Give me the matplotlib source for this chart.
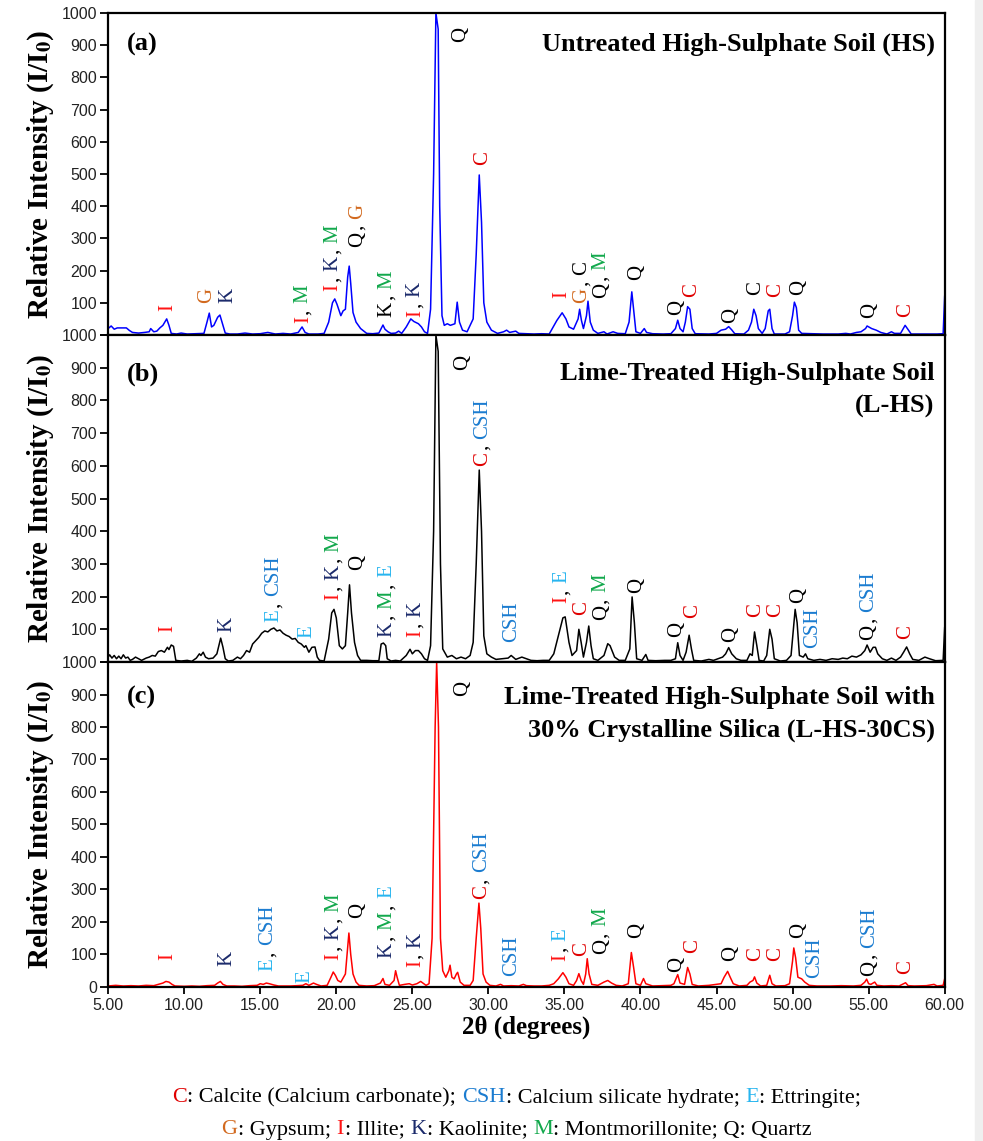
import matplotlib
matplotlib.use("Agg")
import matplotlib.pyplot as plt
from matplotlib.transforms import IdentityTransform
from matplotlib.patches import Rectangle

# ---- data: (2theta, relative intensity) vertices ----
hs_pts = [(5.0, 20), (5.2, 28), (5.4, 18), (5.6, 22), (5.9, 22), (6.2, 22), (6.4, 14), (6.6, 8),
          (7.0, 6), (7.4, 8), (7.7, 10), (7.8, 20), (8.0, 10), (8.2, 12), (8.4, 22), (8.6, 30),
          (8.85, 50), (9.0, 30), (9.15, 5), (9.5, 3), (9.8, 6), (10.2, 3), (11.3, 5), (11.5, 40),
          (11.65, 68), (11.8, 25), (11.95, 30), (12.2, 55), (12.35, 62), (12.55, 30), (12.7, 6),
          (13.0, 3), (13.5, 3), (14.0, 6), (14.5, 3), (15.0, 4), (15.5, 8), (16.0, 3), (16.5, 5),
          (17.0, 3), (17.5, 8), (17.75, 25), (17.95, 8), (18.2, 3), (18.8, 3), (19.2, 5), (19.5, 40),
          (19.75, 100), (19.9, 112), (20.05, 95), (20.3, 60), (20.45, 75), (20.6, 80), (20.75, 180),
          (20.85, 214), (20.95, 160), (21.1, 70), (21.3, 40), (21.6, 20), (22.0, 5), (22.4, 4),
          (22.8, 6), (22.95, 20), (23.07, 31), (23.2, 18), (23.4, 10), (23.6, 5), (23.9, 6),
          (24.1, 12), (24.3, 5), (24.6, 25), (24.9, 50), (25.1, 42), (25.4, 35), (25.6, 25),
          (25.8, 10), (26.0, 5), (26.2, 80), (26.4, 500), (26.55, 1000), (26.7, 950), (26.8, 400),
          (26.95, 60), (27.1, 30), (27.3, 35), (27.5, 30), (27.8, 35), (27.95, 102), (28.1, 40),
          (28.3, 15), (28.6, 10), (29.0, 50), (29.2, 250), (29.4, 497), (29.55, 350), (29.7, 100),
          (29.9, 40), (30.2, 15), (30.6, 5), (31.0, 10), (31.2, 15), (31.4, 8), (31.8, 12), (32.0, 5),
          (32.5, 4), (33.0, 3), (33.5, 4), (34.0, 3), (34.2, 20), (34.5, 45), (34.85, 69), (35.1, 50),
          (35.3, 25), (35.6, 18), (35.9, 50), (36.0, 80), (36.12, 45), (36.25, 20), (36.45, 60),
          (36.55, 105), (36.7, 40), (36.9, 15), (37.2, 5), (37.6, 10), (37.8, 3), (38.2, 10),
          (38.5, 5), (39.0, 4), (39.25, 40), (39.43, 134), (39.55, 80), (39.7, 10), (40.0, 5),
          (40.25, 20), (40.4, 8), (40.8, 4), (41.5, 3), (42.0, 4), (42.3, 20), (42.45, 46),
          (42.6, 20), (42.8, 10), (42.95, 40), (43.1, 88), (43.25, 80), (43.4, 20), (43.6, 4),
          (44.5, 3), (45.0, 5), (45.3, 15), (45.6, 18), (45.8, 26), (46.0, 16), (46.2, 4), (46.8, 3),
          (47.1, 15), (47.3, 40), (47.45, 80), (47.6, 60), (47.75, 20), (48.0, 5), (48.2, 20),
          (48.4, 75), (48.5, 80), (48.65, 20), (48.8, 3), (49.5, 3), (49.8, 10), (50.0, 60),
          (50.12, 102), (50.25, 85), (50.4, 15), (50.6, 5), (51.2, 4), (52.0, 3), (53.0, 3),
          (53.5, 5), (53.8, 3), (54.2, 8), (54.5, 10), (54.8, 20), (54.9, 28), (55.2, 20),
          (55.5, 15), (55.8, 8), (56.2, 3), (56.5, 10), (56.7, 5), (57.1, 5), (57.4, 30),
          (57.55, 20), (57.8, 3), (58.5, 3), (59.0, 3), (59.5, 3), (59.9, 4), (60.0, 120)]

lhs_pts = [(5.0, 15), (5.1, 22), (5.25, 12), (5.4, 20), (5.55, 10), (5.7, 18), (5.85, 10), (6.0, 22),
           (6.15, 12), (6.3, 15), (6.45, 5), (6.6, 8), (6.8, 15), (7.0, 10), (7.2, 5), (7.5, 12),
           (7.7, 15), (7.9, 20), (8.1, 18), (8.3, 32), (8.5, 35), (8.7, 30), (8.9, 45), (9.0, 38),
           (9.15, 52), (9.3, 48), (9.45, 5), (9.8, 3), (10.2, 5), (10.5, 2), (10.8, 12), (11.0, 25),
           (11.1, 20), (11.25, 30), (11.4, 15), (11.6, 10), (11.9, 12), (12.15, 25), (12.4, 73),
           (12.55, 45), (12.7, 10), (12.9, 3), (13.2, 5), (13.5, 15), (13.7, 10), (13.9, 20),
           (14.1, 35), (14.3, 30), (14.5, 55), (14.7, 65), (14.9, 75), (15.1, 88), (15.3, 95),
           (15.5, 92), (15.7, 100), (15.9, 104), (16.1, 95), (16.3, 98), (16.5, 88), (16.7, 82),
           (16.9, 78), (17.1, 70), (17.3, 72), (17.5, 60), (17.7, 55), (17.9, 45), (18.0, 50),
           (18.2, 30), (18.4, 45), (18.6, 46), (18.75, 15), (18.9, 5), (19.2, 3), (19.5, 70),
           (19.7, 150), (19.85, 161), (20.0, 135), (20.2, 50), (20.4, 40), (20.6, 50), (20.75, 150),
           (20.87, 236), (21.0, 150), (21.2, 60), (21.4, 20), (21.6, 5), (22.0, 5), (22.4, 4),
           (22.8, 4), (22.95, 55), (23.1, 58), (23.25, 50), (23.35, 10), (23.6, 3), (23.9, 5),
           (24.2, 3), (24.6, 20), (24.85, 39), (25.0, 25), (25.2, 35), (25.4, 35), (25.6, 25),
           (25.8, 10), (26.0, 5), (26.2, 50), (26.4, 400), (26.55, 1000), (26.7, 950), (26.85, 300),
           (27.0, 40), (27.3, 15), (27.6, 20), (27.9, 10), (28.2, 15), (28.5, 10), (28.8, 20),
           (29.0, 60), (29.2, 300), (29.4, 587), (29.55, 400), (29.7, 80), (29.9, 25), (30.2, 15),
           (30.5, 8), (30.9, 10), (31.3, 12), (31.5, 20), (31.8, 8), (32.2, 15), (32.5, 10),
           (32.8, 5), (33.2, 4), (33.6, 5), (34.0, 5), (34.3, 25), (34.6, 80), (34.9, 135),
           (35.05, 138), (35.3, 60), (35.5, 20), (35.8, 35), (35.95, 100), (36.1, 60), (36.25, 15),
           (36.45, 60), (36.6, 110), (36.75, 50), (36.9, 10), (37.2, 5), (37.6, 20), (37.85, 56),
           (38.0, 50), (38.3, 15), (38.6, 5), (39.0, 5), (39.3, 40), (39.45, 199), (39.6, 120),
           (39.75, 10), (40.1, 5), (40.35, 23), (40.5, 5), (41.0, 4), (41.6, 5), (42.0, 5),
           (42.3, 10), (42.45, 59), (42.6, 20), (42.8, 5), (43.0, 30), (43.2, 82), (43.35, 40),
           (43.5, 5), (44.0, 3), (44.5, 8), (44.8, 5), (45.1, 10), (45.4, 15), (45.6, 25),
           (45.8, 44), (46.0, 25), (46.3, 10), (46.6, 5), (47.0, 5), (47.2, 25), (47.35, 20),
           (47.5, 92), (47.65, 50), (47.8, 5), (48.1, 3), (48.3, 20), (48.5, 100), (48.65, 70),
           (48.8, 10), (49.2, 3), (49.6, 5), (49.9, 20), (50.05, 100), (50.17, 161), (50.3, 120),
           (50.45, 20), (50.7, 15), (50.85, 25), (51.0, 10), (51.4, 5), (51.8, 8), (52.2, 5),
           (52.6, 10), (53.0, 8), (53.3, 12), (53.6, 10), (53.9, 18), (54.2, 15), (54.5, 22),
           (54.75, 35), (54.9, 52), (55.1, 30), (55.3, 45), (55.45, 45), (55.6, 25), (55.9, 10),
           (56.2, 5), (56.5, 12), (56.8, 5), (57.1, 15), (57.3, 30), (57.5, 46), (57.7, 25),
           (57.9, 8), (58.3, 5), (58.7, 15), (59.0, 10), (59.4, 4), (59.9, 5), (60.0, 105)]

lhs30_pts = [(5.0, 3), (5.5, 5), (6.0, 3), (6.5, 4), (7.0, 3), (7.5, 5), (8.0, 4), (8.3, 8), (8.6, 12),
             (8.8, 17), (9.0, 15), (9.2, 8), (9.4, 3), (10.0, 2), (10.5, 3), (11.0, 2), (11.5, 4),
             (12.0, 5), (12.2, 12), (12.38, 17), (12.55, 8), (12.8, 3), (13.3, 3), (13.8, 2),
             (14.3, 4), (14.8, 5), (15.0, 10), (15.2, 8), (15.4, 12), (15.6, 10), (15.9, 6),
             (16.2, 3), (17.0, 3), (17.8, 5), (18.0, 10), (18.2, 5), (18.5, 12), (18.7, 8), (19.0, 3),
             (19.4, 5), (19.65, 30), (19.8, 46), (19.95, 35), (20.1, 20), (20.3, 15), (20.6, 40),
             (20.75, 120), (20.83, 166), (20.95, 100), (21.1, 40), (21.3, 15), (21.5, 5), (22.0, 3),
             (22.5, 4), (22.9, 12), (23.07, 26), (23.2, 8), (23.5, 5), (23.8, 20), (23.9, 50),
             (24.0, 30), (24.15, 5), (24.5, 8), (24.8, 10), (25.0, 6), (25.3, 10), (25.55, 17),
             (25.7, 12), (25.9, 5), (26.1, 10), (26.3, 150), (26.5, 800), (26.6, 1000), (26.72, 800),
             (26.85, 150), (27.0, 50), (27.2, 30), (27.4, 50), (27.48, 67), (27.6, 30), (27.75, 25),
             (27.9, 40), (27.98, 45), (28.15, 15), (28.4, 5), (28.8, 5), (29.0, 20), (29.2, 150),
             (29.38, 258), (29.5, 180), (29.65, 40), (29.85, 15), (30.1, 5), (30.5, 3), (30.8, 8),
             (31.0, 3), (31.5, 4), (32.0, 3), (32.3, 8), (32.5, 4), (33.0, 3), (33.5, 3), (34.0, 5),
             (34.3, 10), (34.6, 25), (34.9, 44), (35.1, 30), (35.3, 10), (35.6, 5), (35.8, 20),
             (35.95, 41), (36.1, 20), (36.25, 8), (36.4, 40), (36.5, 87), (36.62, 40), (36.8, 8),
             (37.2, 5), (37.6, 15), (37.85, 20), (38.1, 12), (38.4, 5), (38.8, 3), (39.2, 10),
             (39.4, 106), (39.55, 60), (39.7, 10), (40.0, 5), (40.2, 26), (40.35, 10), (40.8, 3),
             (41.5, 4), (42.0, 5), (42.2, 10), (42.45, 38), (42.6, 12), (42.9, 8), (43.1, 60),
             (43.25, 40), (43.4, 8), (43.8, 3), (44.5, 5), (45.0, 8), (45.3, 10), (45.5, 30),
             (45.73, 48), (45.9, 30), (46.1, 10), (46.5, 3), (47.0, 5), (47.2, 15), (47.4, 20),
             (47.5, 31), (47.65, 12), (47.9, 3), (48.3, 5), (48.5, 36), (48.65, 10), (48.9, 3),
             (49.5, 4), (49.8, 10), (50.0, 80), (50.08, 120), (50.2, 90), (50.35, 30), (50.6, 25),
             (50.8, 15), (51.1, 5), (51.6, 3), (52.5, 3), (53.2, 4), (54.0, 3), (54.5, 5),
             (54.75, 15), (54.87, 24), (55.0, 10), (55.15, 8), (55.4, 15), (55.55, 5), (56.0, 3),
             (56.5, 4), (57.0, 3), (57.3, 10), (57.43, 13), (57.6, 4), (58.0, 3), (58.8, 4),
             (59.3, 8), (59.5, 3), (59.9, 5), (60.0, 25)]

# peak labels: (2theta, height where the label starts, phases); "*" = written in black
labels_a = [(8.78, 75, "I"), (11.29, 99, "G"), (12.69, 99, "K"), (17.68, 37, "I, M"),
            (19.63, 137, "I, K, M"), (21.23, 274, "Q, G"), (23.2, 57, "K*, M"), (25.04, 57, "I, K"),
            (28.0, 910, "Q"), (29.44, 528, "C"), (34.7, 115, "I"), (35.99, 99, "G, C*"),
            (37.26, 115, "Q, M"), (39.56, 171, "Q"), (42.19, 62, "Q"), (43.24, 119, "C"),
            (45.8, 37, "Q"), (47.43, 124, "C*"), (48.74, 119, "C"), (50.25, 124, "Q"),
            (54.93, 53, "Q"), (57.3, 57, "C")]
labels_b = [(8.79, 93, "I"), (12.67, 93, "K"), (15.75, 123, "E, CSH"), (17.88, 73, "E"),
            (19.7, 190, "I, K, M"), (21.23, 281, "Q"), (23.2, 77, "K, M, E"), (25.06, 77, "I, K"),
            (28.13, 893, "Q"), (29.44, 600, "C, CSH"), (31.35, 62, "CSH"), (34.7, 180, "I, E"),
            (35.95, 144, "C"), (37.26, 128, "Q, M"), (39.56, 211, "Q"), (42.2, 77, "Q"),
            (43.28, 134, "C"), (45.8, 62, "Q"), (47.44, 138, "C"), (48.76, 138, "C"),
            (50.25, 180, "Q"), (51.17, 43, "CSH"), (54.87, 67, "Q, CSH"), (57.3, 70, "C")]
labels_c = [(8.79, 83, "I"), (12.67, 65, "K"), (15.36, 49, "E, CSH"), (17.75, 13, "E"),
            (19.7, 83, "I, K, M"), (21.23, 213, "Q"), (23.2, 90, "K, M, E"), (25.06, 60, "I, K"),
            (28.13, 895, "Q"), (29.38, 271, "C, CSH"), (31.35, 34, "CSH"), (34.6, 80, "I, E"),
            (35.95, 95, "C"), (37.26, 101, "Q, M"), (39.56, 152, "Q"), (42.2, 47, "Q"),
            (43.28, 106, "C"), (45.74, 80, "Q"), (47.44, 80, "C"), (48.76, 80, "C"),
            (50.25, 152, "Q"), (51.3, 29, "CSH"), (54.9, 34, "Q, CSH"), (57.3, 40, "C")]

phase_colors = {"C": "#e00000", "CSH": "#1b7cd0", "E": "#27b5ef", "G": "#d2691e",
                "I": "#ff1414", "K": "#1b2a6b", "M": "#12a84c", "Q": "black"}

titles = ["Untreated High-Sulphate Soil (HS)",
          "Lime-Treated High-Sulphate Soil\n(L-HS)",
          "Lime-Treated High-Sulphate Soil with\n30% Crystalline Silica (L-HS-30CS)"]
tags = ["(a)", "(b)", "(c)"]
line_colors = ["#0000ff", "black", "#ff0000"]
yticks = list(range(0, 1001, 100))
xticks = [5, 10, 15, 20, 25, 30, 35, 40, 45, 50, 55, 60]

caption_1 = [("C", "C"), (": Calcite (Calcium carbonate); ", None), ("CSH", "CSH"),
             (": Calcium silicate hydrate; ", None), ("E", "E"), (": Ettringite;", None)]
caption_2 = [("G", "G"), (": Gypsum; ", None), ("I", "I"), (": Illite; ", None), ("K", "K"),
             (": Kaolinite; ", None), ("M", "M"), (": Montmorillonite; Q: Quartz", None)]

SERIF = "Liberation Serif"
SANS = "Liberation Sans"
LABEL_FS = 15
plt.rcParams["mathtext.fontset"] = "stix"

fig = plt.figure(figsize=(9.83, 11.41), dpi=100)
fig.patches.append(Rectangle((975 / 983, 0), 8 / 983, 1, transform=fig.transFigure,
                             color="#efefef", zorder=0))

boxes = [(0.110, 0.7064, 0.851, 0.2822), (0.110, 0.4198, 0.851, 0.2866), (0.110, 0.1350, 0.851, 0.2848)]
title_y = [0.938, 0.917, 0.926]
series = [hs_pts, lhs_pts, lhs30_pts]
all_labels = [labels_a, labels_b, labels_c]

axes = []
for i in range(3):
    ax = fig.add_axes(boxes[i])
    tt, yy = zip(*series[i])
    ax.plot(tt, yy, color=line_colors[i], lw=1.1)
    ax.set_xlim(5, 60)
    ax.set_ylim(0, 1000)
    ax.set_yticks(yticks)
    # the upper panels' "0" sits under the "1000" of the panel below
    ax.set_yticklabels(["" if (v == 0 and i < 2) else str(v) for v in yticks], family=SANS)
    ax.set_xticks(xticks)
    for sp in ax.spines.values():
        sp.set_linewidth(1.6)
    ax.tick_params(axis="y", direction="out", length=6, width=1.3, labelsize=11.5,
                   labelcolor="#222222", pad=2)
    if i < 2:
        ax.tick_params(axis="x", bottom=False, labelbottom=False)
    else:
        ax.tick_params(axis="x", direction="out", length=5, width=1.3, labelsize=11.5,
                       labelcolor="#222222", pad=3)
        ax.set_xticklabels([f"{v:.2f}" for v in xticks], family=SANS)
        ax.set_xlabel("2θ (degrees)", family=SERIF, fontweight="bold", fontsize=18)
        ax.xaxis.set_label_coords(0.5, -0.088)
    ax.set_ylabel(r"Relative Intensity (I/I$_\mathbf{0}$)", family=SERIF,
                  fontweight="bold", fontsize=21)
    ax.yaxis.set_label_coords(-0.062, 0.5)
    ax.text(0.023, title_y[i], tags[i], transform=ax.transAxes, ha="left", va="top",
            family=SERIF, fontweight="bold", fontsize=19)
    ax.text(0.988, title_y[i], titles[i], transform=ax.transAxes, ha="right", va="top",
            multialignment="right", family=SERIF, fontweight="bold", fontsize=19,
            linespacing=1.55)
    axes.append(ax)

rend = fig.canvas.get_renderer()
cap_px = 0.66 * LABEL_FS * 100 / 72


def peak_label(ax, x, y, spec):
    X, Y = ax.transData.transform((x, y))
    X += cap_px / 2
    off = 0.0
    parts = spec.split(", ")
    for k, p in enumerate(parts):
        code = p.rstrip("*")
        segs = [(code, "black" if p.endswith("*") else phase_colors[code])]
        if k < len(parts) - 1:
            segs.append((",", "black"))
        for s, c in segs:
            t = fig.text(X, Y + off, s, transform=IdentityTransform(), rotation=90,
                         rotation_mode="anchor", ha="left", va="baseline", color=c,
                         fontsize=LABEL_FS, family=SERIF)
            bb = t.get_window_extent(rend)
            off = bb.y1 - Y + (6.0 if s == "," else 1.5)


for ax, labs in zip(axes, all_labels):
    for x, y, spec in labs:
        peak_label(ax, x, y, spec)


def caption_line(segs, y_img, xc, fs=16):
    y = 1141 - y_img
    space = 0.25 * fs * 100 / 72
    x = 0.0
    texts = []
    for s, code in segs:
        c = phase_colors[code] if code else "black"
        t = fig.text(x, y, s.rstrip(), transform=IdentityTransform(), ha="left",
                     va="center", color=c, fontsize=fs, family=SERIF)
        bb = t.get_window_extent(rend)
        texts.append(t)
        x = bb.x1 + (space if s.endswith(" ") else 0.6)
    total = x
    for t in texts:
        px, py = t.get_position()
        t.set_position((px + xc - total / 2, py))


caption_line(caption_1, 1098, 517)
caption_line(caption_2, 1130, 517)

fig.savefig("out.png", dpi=100)
